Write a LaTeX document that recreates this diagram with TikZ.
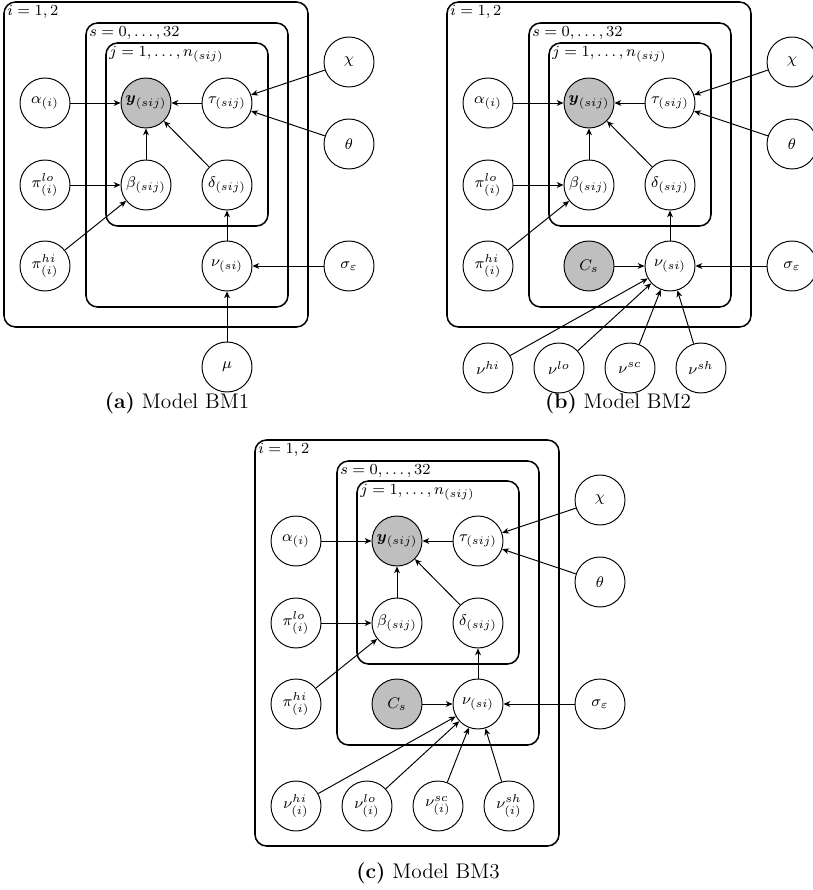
\documentclass[tikz,border=0pt]{standalone}
\usepackage{amsmath,amssymb}
\usepackage{tikz}
\usetikzlibrary{arrows.meta}

\begin{document}
\begin{tikzpicture}[
  x=0.52pt, y=-0.52pt,
  var/.style={draw, circle, fill=white, minimum size=26pt, inner sep=0pt,
    line width=0.5pt, font=\fontsize{8.5}{10}\selectfont},
  obs/.style={var, fill=black!25},
  plate/.style={draw, rounded corners=6pt, line width=0.8pt},
  platelabel/.style={anchor=north west, inner sep=1pt, font=\fontsize{8.5}{10}\selectfont},
  edge/.style={-{Stealth[length=3.5pt,width=3pt,inset=1pt]}, line width=0.5pt},
  caption/.style={font=\fontsize{11}{13}\selectfont}
]
\useasboundingbox (0,0) rectangle (812,890);

% Model BM1.
\begin{scope}
  \draw[plate] (4,2) rectangle (308,327);
  \draw[plate] (86,23) rectangle (288,307);
  \draw[plate] (106,43) rectangle (268,226);
  \node[platelabel] at (5,3) {$i=1,2$};
  \node[platelabel] at (87,24) {$s=0,\ldots,32$};
  \node[platelabel] at (107,44) {$j=1,\ldots,n_{(sij)}$};

  \node[var] (a-alpha) at (45,103) {$\alpha_{(i)}$};
  \node[obs] (a-y) at (146,103) {$\boldsymbol{y}_{(sij)}$};
  \node[var] (a-tau) at (227,103) {$\tau_{(sij)}$};
  \node[var] (a-chi) at (349,62) {$\chi$};
  \node[var] (a-theta) at (349,144) {$\theta$};
  \node[var] (a-pilo) at (45,185) {$\pi^{lo}_{(i)}$};
  \node[var] (a-beta) at (146,185) {$\beta_{(sij)}$};
  \node[var] (a-delta) at (227,185) {$\delta_{(sij)}$};
  \node[var] (a-pihi) at (45,266) {$\pi^{hi}_{(i)}$};
  \node[var] (a-nu) at (227,266) {$\nu_{(si)}$};
  \node[var] (a-sigma) at (349,266) {$\sigma_\varepsilon$};
  \node[var] (a-mu) at (227,367) {$\mu$};

  \draw[edge] (a-alpha) -- (a-y);
  \draw[edge] (a-tau) -- (a-y);
  \draw[edge] (a-beta) -- (a-y);
  \draw[edge] (a-delta) -- (a-y);
  \draw[edge] (a-pilo) -- (a-beta);
  \draw[edge] (a-pihi) -- (a-beta);
  \draw[edge] (a-chi) -- (a-tau);
  \draw[edge] (a-theta) -- (a-tau);
  \draw[edge] (a-nu) -- (a-delta);
  \draw[edge] (a-sigma) -- (a-nu);
  \draw[edge] (a-mu) -- (a-nu);

  \node[caption] (a-cap) at (177,403) {\textbf{(a)} Model BM1};
\end{scope}

% Model BM2.
\begin{scope}[shift={(443,0)}]
  \draw[plate] (4,2) rectangle (308,327);
  \draw[plate] (86,23) rectangle (288,307);
  \draw[plate] (106,43) rectangle (268,226);
  \node[platelabel] at (5,3) {$i=1,2$};
  \node[platelabel] at (87,24) {$s=0,\ldots,32$};
  \node[platelabel] at (107,44) {$j=1,\ldots,n_{(sij)}$};

  \node[var] (b-alpha) at (45,103) {$\alpha_{(i)}$};
  \node[obs] (b-y) at (146,103) {$\boldsymbol{y}_{(sij)}$};
  \node[var] (b-tau) at (227,103) {$\tau_{(sij)}$};
  \node[var] (b-chi) at (349,62) {$\chi$};
  \node[var] (b-theta) at (349,144) {$\theta$};
  \node[var] (b-pilo) at (45,185) {$\pi^{lo}_{(i)}$};
  \node[var] (b-beta) at (146,185) {$\beta_{(sij)}$};
  \node[var] (b-delta) at (227,185) {$\delta_{(sij)}$};
  \node[var] (b-pihi) at (45,266) {$\pi^{hi}_{(i)}$};
  \node[obs] (b-c) at (146,266) {$C_s$};
  \node[var] (b-nu) at (227,266) {$\nu_{(si)}$};
  \node[var] (b-sigma) at (349,266) {$\sigma_\varepsilon$};
  \node[var] (b-nuhi) at (45,368) {$\nu^{hi}$};
  \node[var] (b-nulo) at (116,368) {$\nu^{lo}$};
  \node[var] (b-nusc) at (187,368) {$\nu^{sc}$};
  \node[var] (b-nush) at (258,368) {$\nu^{sh}$};

  \draw[edge] (b-alpha) -- (b-y);
  \draw[edge] (b-tau) -- (b-y);
  \draw[edge] (b-beta) -- (b-y);
  \draw[edge] (b-delta) -- (b-y);
  \draw[edge] (b-pilo) -- (b-beta);
  \draw[edge] (b-pihi) -- (b-beta);
  \draw[edge] (b-chi) -- (b-tau);
  \draw[edge] (b-theta) -- (b-tau);
  \draw[edge] (b-nu) -- (b-delta);
  \draw[edge] (b-sigma) -- (b-nu);
  \draw[edge] (b-c) -- (b-nu);
  \draw[edge] (b-nuhi) -- (b-nu);
  \draw[edge] (b-nulo) -- (b-nu);
  \draw[edge] (b-nusc) -- (b-nu);
  \draw[edge] (b-nush) -- (b-nu);

  \node[caption] (b-cap) at (175,403) {\textbf{(b)} Model BM2};
\end{scope}

% Model BM3: the offset nodes sit inside the outer plate.
\begin{scope}[shift={(251,438)}]
  \draw[plate] (4,2) rectangle (308,408);
  \draw[plate] (86,23) rectangle (288,307);
  \draw[plate] (106,43) rectangle (268,226);
  \node[platelabel] at (5,3) {$i=1,2$};
  \node[platelabel] at (87,24) {$s=0,\ldots,32$};
  \node[platelabel] at (107,44) {$j=1,\ldots,n_{(sij)}$};

  \node[var] (c-alpha) at (45,103) {$\alpha_{(i)}$};
  \node[obs] (c-y) at (146,103) {$\boldsymbol{y}_{(sij)}$};
  \node[var] (c-tau) at (227,103) {$\tau_{(sij)}$};
  \node[var] (c-chi) at (349,62) {$\chi$};
  \node[var] (c-theta) at (349,144) {$\theta$};
  \node[var] (c-pilo) at (45,185) {$\pi^{lo}_{(i)}$};
  \node[var] (c-beta) at (146,185) {$\beta_{(sij)}$};
  \node[var] (c-delta) at (227,185) {$\delta_{(sij)}$};
  \node[var] (c-pihi) at (45,266) {$\pi^{hi}_{(i)}$};
  \node[obs] (c-c) at (146,266) {$C_s$};
  \node[var] (c-nu) at (227,266) {$\nu_{(si)}$};
  \node[var] (c-sigma) at (349,266) {$\sigma_\varepsilon$};
  \node[var] (c-nuhi) at (45,368) {$\nu^{hi}_{(i)}$};
  \node[var] (c-nulo) at (116,368) {$\nu^{lo}_{(i)}$};
  \node[var] (c-nusc) at (187,368) {$\nu^{sc}_{(i)}$};
  \node[var] (c-nush) at (258,368) {$\nu^{sh}_{(i)}$};

  \draw[edge] (c-alpha) -- (c-y);
  \draw[edge] (c-tau) -- (c-y);
  \draw[edge] (c-beta) -- (c-y);
  \draw[edge] (c-delta) -- (c-y);
  \draw[edge] (c-pilo) -- (c-beta);
  \draw[edge] (c-pihi) -- (c-beta);
  \draw[edge] (c-chi) -- (c-tau);
  \draw[edge] (c-theta) -- (c-tau);
  \draw[edge] (c-nu) -- (c-delta);
  \draw[edge] (c-sigma) -- (c-nu);
  \draw[edge] (c-c) -- (c-nu);
  \draw[edge] (c-nuhi) -- (c-nu);
  \draw[edge] (c-nulo) -- (c-nu);
  \draw[edge] (c-nusc) -- (c-nu);
  \draw[edge] (c-nush) -- (c-nu);

  \node[caption] (c-cap) at (177,435) {\textbf{(c)} Model BM3};
\end{scope}

\end{tikzpicture}
\end{document}
